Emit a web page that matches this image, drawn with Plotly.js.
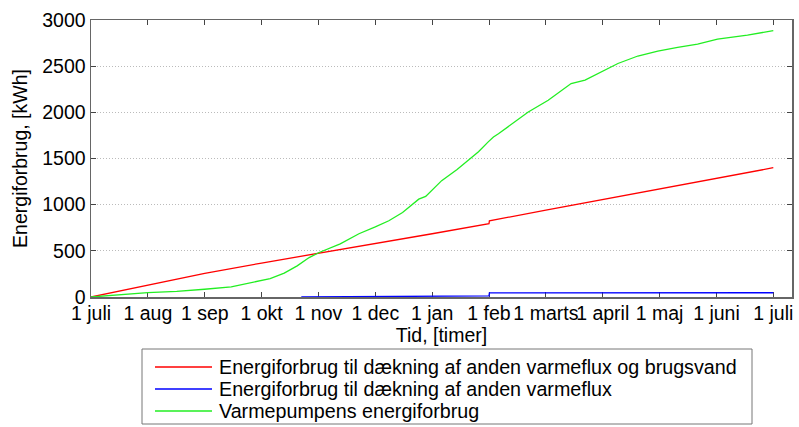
<!DOCTYPE html>
<html>
<head>
<meta charset="utf-8">
<script src="https://cdn.plot.ly/plotly-3.0.1.min.js"></script>
<style>html,body{margin:0;padding:0;background:#fff;}#chart{width:799px;height:427px;}</style>
</head>
<body>
<div id="chart"></div>
<script>
// Month tick positions (hours) and labels
const tickHours = [0, 730, 1460, 2190, 2920, 3650, 4380, 5110, 5840, 6570, 7300, 8030, 8760];
const tickLabels = ["1 juli", "1 aug", "1 sep", "1 okt", "1 nov", "1 dec", "1 jan", "1 feb", "1 marts", "1 april", "1 maj", "1 juni", "1 juli"];
const yTicks = [0, 500, 1000, 1500, 2000, 2500, 3000];

// Series names
const seriesNames = ['Energiforbrug til dækning af anden varmeflux og brugsvand', 'Energiforbrug til dækning af anden varmeflux', 'Varmepumpens energiforbrug'];

// Red: Energiforbrug til dækning af anden varmeflux og brugsvand
const redHours = [0, 730, 1460, 2190, 2920, 3650, 4380, 5110, 5115, 5840, 6570, 7300, 8030, 8760];
const redValues = [0, 128, 255, 368, 472, 578, 685, 795, 825, 940, 1055, 1170, 1285, 1400];

// Blue: Energiforbrug til dækning af anden varmeflux
const blueHours = [2700, 4380, 4390, 5110, 5115, 8760];
const blueValues = [0, 3, 10, 12, 45, 46];

// Green: Varmepumpens energiforbrug
const greenHours = [0, 365, 729, 1100, 1400, 1458, 1800, 2123, 2300, 2481, 2647, 2801, 2929, 3200, 3440, 3650, 3824, 4000, 4143, 4208, 4297, 4502, 4700, 4885, 4975, 5100, 5167, 5231, 5320, 5614, 5870, 6164, 6343, 6510, 6765, 7021, 7277, 7532, 7788, 8044, 8428, 8760];
const greenValues = [0, 25, 47, 62, 75, 84, 110, 163, 200, 258, 337, 427, 482, 575, 685, 760, 826, 915, 1010, 1060, 1090, 1260, 1380, 1503, 1573, 1680, 1732, 1768, 1822, 2003, 2130, 2312, 2348, 2420, 2529, 2610, 2663, 2703, 2739, 2793, 2837, 2884];

const colors = ['#ff0000', '#0000ff', '#22ee22'];

const traces = [
  {x: redHours, y: redValues, type: 'scatter', mode: 'lines', name: seriesNames[0], line: {color: colors[0], width: 1.3}},
  {x: blueHours, y: blueValues, type: 'scatter', mode: 'lines', name: seriesNames[1], line: {color: colors[1], width: 1.3}},
  {x: greenHours, y: greenValues, type: 'scatter', mode: 'lines', name: seriesNames[2], line: {color: colors[2], width: 1.3}}
];

const fam = 'Arial, "Liberation Sans", sans-serif';
const txt = {family: fam, size: 19.5, color: '#000'};

// plot area geometry (px) for positioning the legend box in paper coordinates
const W = 799, H = 427, ML = 91, MR = 7, MT = 20, MB = 130;
const PW = W - ML - MR, PH = H - MT - MB;
const px = v => (v - ML) / PW;
const py = v => (H - MB - v) / PH;

// legend box drawn as shapes + annotations
const legBox = {x0: 142, x1: 752, y0: 349, y1: 424};
const rowY = [367, 389, 411];
const shapes = [{
  type: 'rect', xref: 'paper', yref: 'paper',
  x0: px(legBox.x0), x1: px(legBox.x1), y0: py(legBox.y1), y1: py(legBox.y0),
  line: {color: '#777', width: 1}, fillcolor: '#fff', layer: 'above'
}];
const annotations = [];
seriesNames.forEach((n, i) => {
  shapes.push({type: 'line', xref: 'paper', yref: 'paper', x0: px(155), x1: px(212), y0: py(rowY[i]), y1: py(rowY[i]), line: {color: colors[i], width: 1.3}, layer: 'above'});
  annotations.push({xref: 'paper', yref: 'paper', x: px(217), y: py(rowY[i]), xanchor: 'left', yanchor: 'middle', text: n, showarrow: false, font: {family: fam, size: 19.7, color: '#000'}});
});

const layout = {
  width: W, height: H,
  margin: {l: ML, r: MR, t: MT, b: MB, autoexpand: false},
  paper_bgcolor: '#fff', plot_bgcolor: '#fff',
  font: txt,
  showlegend: false,
  shapes: shapes,
  annotations: annotations,
  xaxis: {
    range: [0, 9000],
    tickvals: tickHours, ticktext: tickLabels, tickangle: 0, ticklabeloverflow: 'allow',
    ticks: 'inside', ticklen: 5, tickcolor: '#444', tickwidth: 1,
    showline: true, linecolor: '#666', linewidth: 1.5, mirror: 'ticks',
    showgrid: false, zeroline: false,
    tickfont: txt, ticklabelstandoff: -2,
    title: {text: 'Tid, [timer]', font: txt, standoff: 3},
    layer: 'below traces'
  },
  yaxis: {
    range: [0, 3000],
    tickvals: yTicks,
    ticks: 'inside', ticklen: 5, tickcolor: '#444', tickwidth: 1,
    showline: true, linecolor: '#666', linewidth: 1.5, mirror: 'ticks',
    showgrid: true, gridcolor: '#bbb', griddash: '1px,2px', gridwidth: 1,
    zeroline: false,
    tickfont: txt,
    title: {text: 'Energiforbrug, [kWh]', font: txt, standoff: 9},
    layer: 'below traces'
  }
};

Plotly.newPlot('chart', traces, layout, {displayModeBar: false, staticPlot: true});
</script>
</body>
</html>
